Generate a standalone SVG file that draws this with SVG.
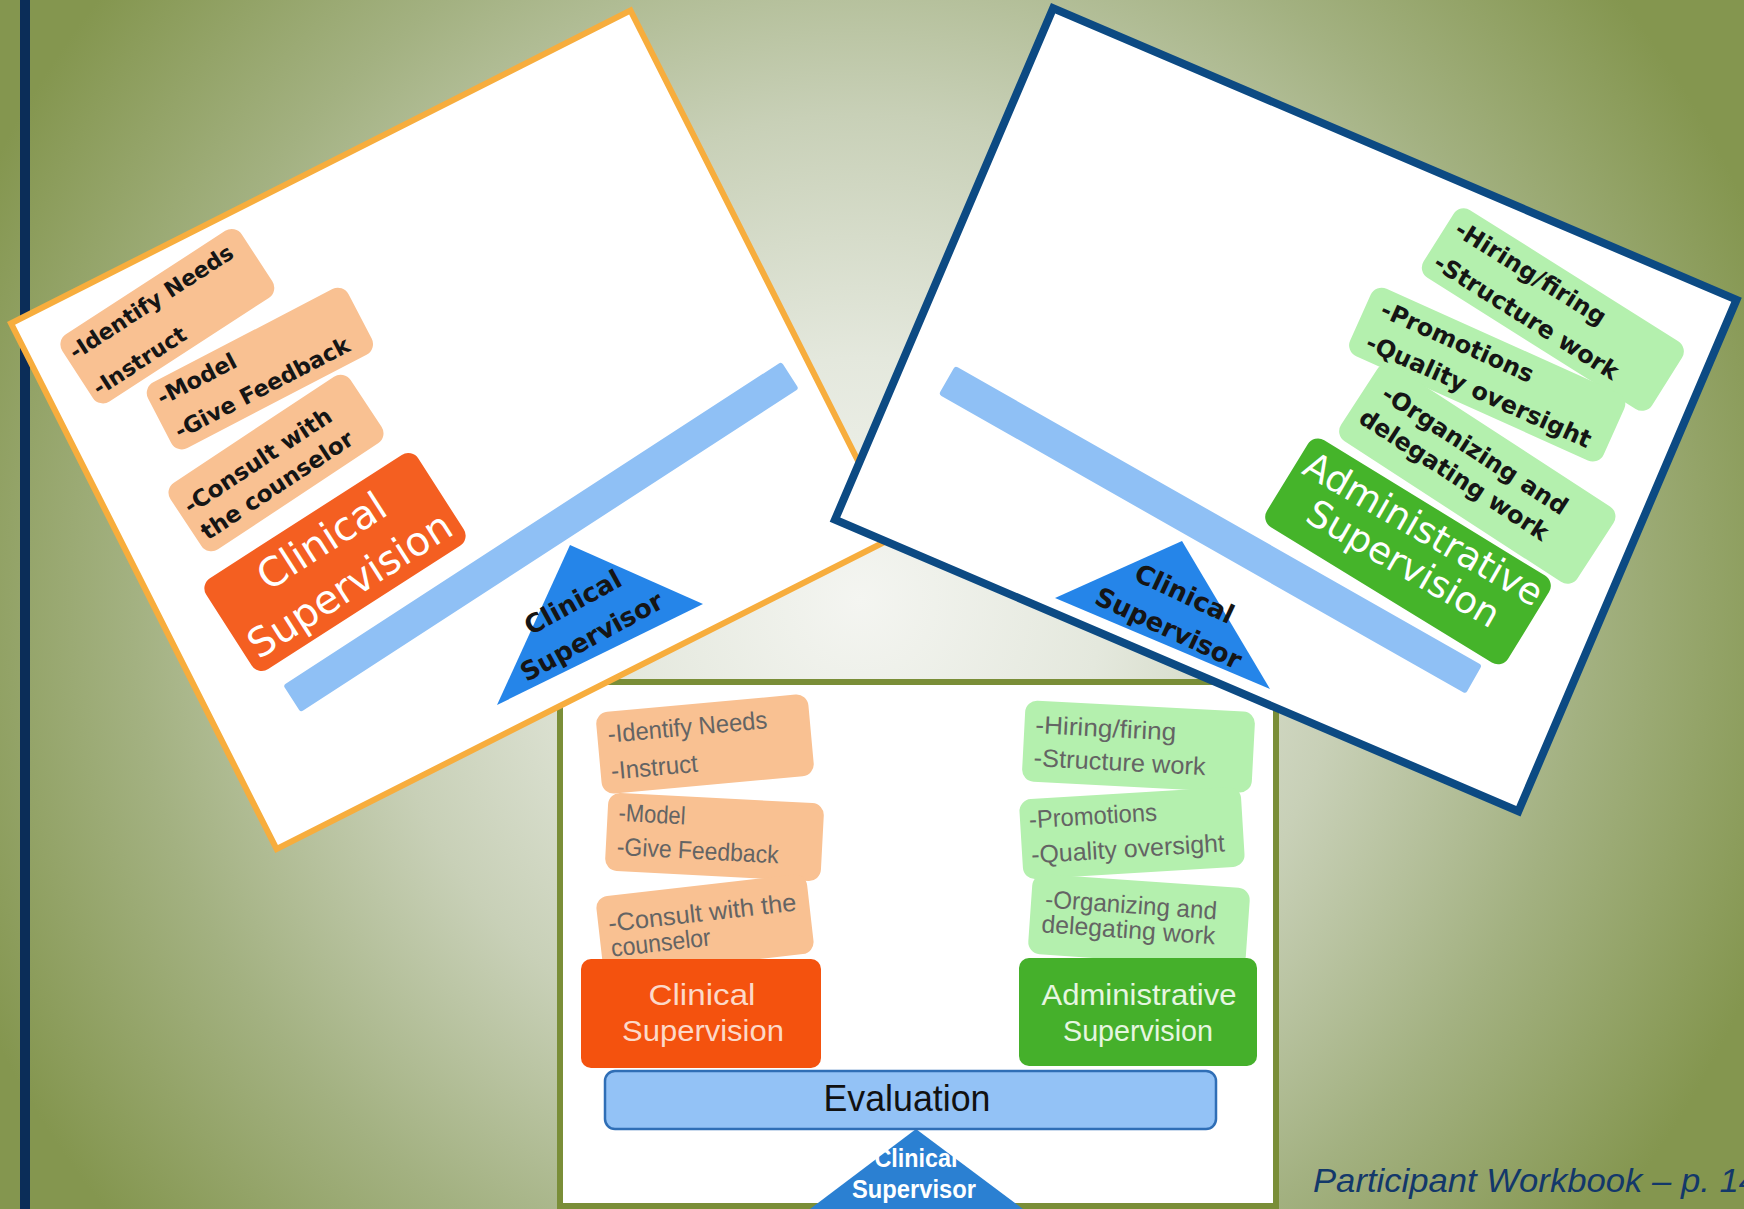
<svg xmlns="http://www.w3.org/2000/svg" width="1744" height="1209" viewBox="0 0 1744 1209">
<defs>
<radialGradient id="bg" gradientUnits="userSpaceOnUse" cx="860" cy="600" r="970">
<stop offset="0" stop-color="#f4f5f1"/>
<stop offset="0.25" stop-color="#e4e8dd"/>
<stop offset="0.5" stop-color="#c8d0b7"/>
<stop offset="0.75" stop-color="#a3b181"/>
<stop offset="1" stop-color="#84964f"/>
</radialGradient>
<style>
.tilt{font-family:"DejaVu Sans",Verdana,sans-serif;font-weight:bold;fill:#151515;}
.big{font-family:"DejaVu Sans",Verdana,sans-serif;fill:#ffffff;text-anchor:middle;}
.small{font-family:"Liberation Sans Narrow","Liberation Sans",Arial,sans-serif;fill:#646464;font-size:25px;}
.head{font-family:"Liberation Sans Narrow","Liberation Sans",Arial,sans-serif;font-size:30px;text-anchor:middle;}
.peach{fill:#f9c192;}
.lgreen{fill:#b4f0ae;}
.beam{fill:#8fc0f5;}
</style>
</defs>
<rect width="1744" height="1209" fill="url(#bg)"/>
<rect x="20" y="0" width="10" height="1209" fill="#0b2d58"/>

<!-- bottom panel -->
<g id="panel-bottom">
<rect x="560" y="682" width="716" height="524" fill="#ffffff" stroke="#7a8e38" stroke-width="6"/>
<g id="b-identify" transform="translate(705,744) rotate(-5.2)">
<rect x="-106.5" y="-41" width="213" height="82" rx="12" class="peach"/>
<text class="small" x="-96" y="-10" textLength="160" lengthAdjust="spacingAndGlyphs">-Identify Needs</text>
<text class="small" x="-96" y="27" textLength="87" lengthAdjust="spacingAndGlyphs">-Instruct</text>
</g>
<g id="b-model" transform="translate(714.5,837) rotate(3)">
<rect x="-108" y="-39" width="216" height="78" rx="12" class="peach"/>
<text class="small" x="-97" y="-11" textLength="67" lengthAdjust="spacingAndGlyphs">-Model</text>
<text class="small" x="-97" y="23" textLength="162" lengthAdjust="spacingAndGlyphs">-Give Feedback</text>
</g>
<g id="b-consult" transform="translate(705,925) rotate(-6.5)">
<rect x="-106" y="-40" width="212" height="80" rx="12" class="peach"/>
<text class="small" x="-96" y="-4" textLength="189" lengthAdjust="spacingAndGlyphs">-Consult with the</text>
<text class="small" x="-96" y="21" textLength="100" lengthAdjust="spacingAndGlyphs">counselor</text>
</g>
<g id="b-clinical">
<rect x="581" y="959" width="240" height="109" rx="10" fill="#f4520e"/>
<text class="head" x="702" y="1005" fill="#fcd9c8" textLength="107" lengthAdjust="spacingAndGlyphs">Clinical</text>
<text class="head" x="703" y="1041" fill="#fcd9c8" textLength="162" lengthAdjust="spacingAndGlyphs">Supervision</text>
</g>
<g id="b-hiring" transform="translate(1138.5,746.6) rotate(3)">
<rect x="-115" y="-40.5" width="230" height="81" rx="12" class="lgreen"/>
<text class="small" x="-104" y="-8" textLength="141" lengthAdjust="spacingAndGlyphs">-Hiring/firing</text>
<text class="small" x="-104" y="25" textLength="172" lengthAdjust="spacingAndGlyphs">-Structure work</text>
</g>
<g id="b-promotions" transform="translate(1132,833) rotate(-3.5)">
<rect x="-111" y="-40" width="222" height="80" rx="12" class="lgreen"/>
<text class="small" x="-102" y="-11" textLength="128" lengthAdjust="spacingAndGlyphs">-Promotions</text>
<text class="small" x="-102" y="24" textLength="194" lengthAdjust="spacingAndGlyphs">-Quality oversight</text>
</g>
<g id="b-organizing" transform="translate(1139,921) rotate(4)">
<rect x="-109" y="-40" width="218" height="80" rx="12" class="lgreen"/>
<text class="small" x="-95" y="-7" textLength="172" lengthAdjust="spacingAndGlyphs">-Organizing and</text>
<text class="small" x="-97" y="18" textLength="174" lengthAdjust="spacingAndGlyphs">delegating work</text>
</g>
<g id="b-admin">
<rect x="1019" y="958" width="238" height="108" rx="10" fill="#45b02b"/>
<text class="head" x="1139" y="1005" fill="#e6f6e0" textLength="195" lengthAdjust="spacingAndGlyphs">Administrative</text>
<text class="head" x="1138" y="1041" fill="#e6f6e0" textLength="150" lengthAdjust="spacingAndGlyphs">Supervision</text>
</g>
<g id="b-supervisor">
<polygon points="916,1129 806,1212 1027,1212" fill="#2b80d2"/>
<text x="916" y="1167" font-family="Liberation Sans Narrow, Liberation Sans, Arial, sans-serif" font-weight="bold" font-size="25" fill="#ffffff" text-anchor="middle" textLength="83" lengthAdjust="spacingAndGlyphs">Clinical</text>
<text x="914" y="1198" font-family="Liberation Sans Narrow, Liberation Sans, Arial, sans-serif" font-weight="bold" font-size="25" fill="#ffffff" text-anchor="middle" textLength="124" lengthAdjust="spacingAndGlyphs">Supervisor</text>
</g>
<g id="b-evaluation">
<rect x="605" y="1071" width="611" height="58" rx="10" fill="#93c2f6" stroke="#2f6eb6" stroke-width="2.5"/>
<text x="907" y="1111" font-family="Liberation Sans Narrow, Liberation Sans, Arial, sans-serif" font-size="36" fill="#111111" text-anchor="middle" textLength="167" lengthAdjust="spacingAndGlyphs">Evaluation</text>
</g>
</g>

<!-- left tilted panel -->
<g id="panel-left">
<rect x="3" y="3" width="694" height="589" transform="translate(7,322) rotate(-26.8)" fill="#ffffff" stroke="#f7ad3d" stroke-width="6"/>
<g id="l-supervisor">
<polygon points="570,545 497,705 703,604" fill="#2585e9"/>
<g transform="translate(582,619) rotate(-28.6)">
<text class="tilt" x="0" y="-10" font-size="26" text-anchor="middle">Clinical</text>
<text class="tilt" x="0" y="29" font-size="26" text-anchor="middle">Supervisor</text>
</g>
</g>
<rect id="l-beam" x="-297" y="-16" width="594" height="32" rx="3" class="beam" transform="translate(541,537) rotate(-33)"/>
<g id="l-identify" transform="translate(166.5,316.7) rotate(-33)">
<rect x="-106" y="-40" width="214" height="80" rx="12" class="peach"/>
<text class="tilt" x="-100" y="-13" font-size="22">-Identify Needs</text>
<text class="tilt" x="-100" y="30" font-size="22">-Instruct</text>
</g>
<g id="l-model" transform="translate(259,369) rotate(-27.5)">
<rect x="-112" y="-37" width="226" height="74" rx="12" class="peach"/>
<text class="tilt" x="-103" y="-12" font-size="22.5">-Model</text>
<text class="tilt" x="-103" y="26" font-size="22.5">-Give Feedback</text>
</g>
<g id="l-consult" transform="translate(276,463) rotate(-33.5)">
<rect x="-108" y="-40" width="216" height="80" rx="12" class="peach"/>
<text class="tilt" x="-100" y="-4" font-size="23">-Consult with</text>
<text class="tilt" x="-100" y="27" font-size="23">the counselor</text>
</g>
<g id="l-clinical" transform="translate(335,562) rotate(-32.7)">
<rect x="-126" y="-54" width="252" height="108" rx="12" fill="#f45f21"/>
<text class="big" x="0" y="-11" font-size="40">Clinical</text>
<text class="big" x="0" y="41" font-size="40">Supervision</text>
</g>
</g>

<!-- right tilted panel -->
<g id="panel-right">
<rect x="4" y="4" width="743" height="556" transform="translate(1051,3) rotate(23.1)" fill="#ffffff" stroke="#0c4a83" stroke-width="8"/>
<g id="r-supervisor">
<polygon points="1182,541 1055,598 1270,689" fill="#2585e9"/>
<g transform="translate(1176.5,611) rotate(25)">
<text class="tilt" x="0" y="-10" font-size="26" text-anchor="middle">Clinical</text>
<text class="tilt" x="0" y="28" font-size="26" text-anchor="middle">Supervisor</text>
</g>
</g>
<rect id="r-beam" x="-303" y="-16.5" width="606" height="33" rx="3" class="beam" transform="translate(1210.4,529.8) rotate(29.6)"/>
<g id="r-hiring" transform="translate(1552,309) rotate(32.2)">
<rect x="-134" y="-40" width="270" height="80" rx="12" class="lgreen"/>
<text class="tilt" x="-124" y="-10.9" font-size="24">-Hiring/firing</text>
<text class="tilt" x="-124" y="28.6" font-size="24">-Structure work</text>
</g>
<g id="r-promotions" transform="translate(1487.2,374.6) rotate(24.2)">
<rect x="-139" y="-37" width="278" height="74" rx="12" class="lgreen"/>
<text class="tilt" x="-123" y="-9.4" font-size="24">-Promotions</text>
<text class="tilt" x="-123" y="26.6" font-size="24">-Quality oversight</text>
</g>
<g id="r-organizing" transform="translate(1463,461) rotate(33)">
<rect x="-122" y="-42" width="282" height="90" rx="12" class="lgreen"/>
<text class="tilt" x="-104" y="-7.4" font-size="24">-Organizing and</text>
<text class="tilt" x="-110" y="24.6" font-size="24">delegating work</text>
</g>
<g id="r-admin">
<rect x="-141.5" y="-51" width="283" height="102" rx="12" fill="#45b42a" transform="translate(1408,551.4) rotate(31.5)"/>
<g transform="translate(1413.7,545.8) rotate(30)">
<text class="big" x="0" y="-6.7" font-size="37">Administrative</text>
<text class="big" x="0" y="33.3" font-size="37">Supervision</text>
</g>
</g>
</g>

<text id="footer" x="1313" y="1192" font-family="Liberation Sans, Arial, sans-serif" font-style="italic" font-size="33" fill="#13386a" textLength="445" lengthAdjust="spacingAndGlyphs">Participant Workbook – p. 14</text>
</svg>
